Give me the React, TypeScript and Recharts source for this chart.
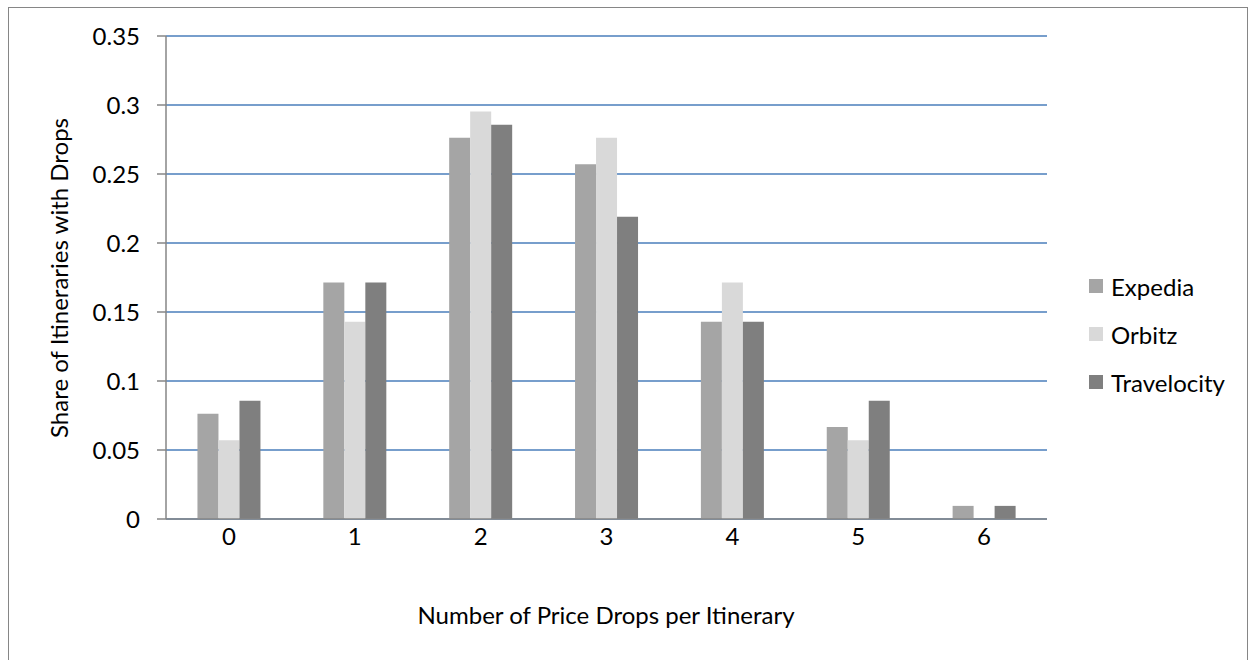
import { BarChart, Bar, XAxis, YAxis, CartesianGrid } from 'recharts'

const drops = ['0', '1', '2', '3', '4', '5', '6']
const expedia = [0.0762, 0.1714, 0.2762, 0.2571, 0.1429, 0.0667, 0.0095]
const orbitz = [0.0571, 0.1429, 0.2952, 0.2762, 0.1714, 0.0571, 0]
const travelocity = [0.0857, 0.1714, 0.2857, 0.219, 0.1429, 0.0857, 0.0095]
const yTicks = [0, 0.05, 0.1, 0.15, 0.2, 0.25, 0.3, 0.35]

const series = [
    { key: 'Expedia', values: expedia, color: '#A5A5A5' },
    { key: 'Orbitz', values: orbitz, color: '#D9D9D9' },
    { key: 'Travelocity', values: travelocity, color: '#7F7F7F' },
]

const data = drops.map((d, i) => {
    const row: Record<string, string | number> = { drops: d }
    series.forEach(s => { row[s.key] = s.values[i] })
    return row
})

const FONT = 'Lato, "Open Sans", sans-serif'
const FS = 24
const AXIS = '#868686'

const fmt = (v: number) => String(Number(v.toFixed(2)))

export default function App() {
    return (
        <div style={{ position: 'absolute', left: 8, top: 7, width: 1238, height: 700, border: `1px solid ${AXIS}`, background: '#fff' }}>
            <BarChart
                width={1238}
                height={640}
                data={data}
                margin={{ top: 28, right: 200, left: 97, bottom: 99 }}
                barCategoryGap="25%"
                barGap={0}
            >
                <CartesianGrid horizontal vertical={false} stroke="#4A7EBB" strokeWidth={1.5} />
                <XAxis
                    dataKey="drops"
                    height={30}
                    stroke={AXIS}
                    strokeWidth={1.5}
                    tickLine={false}
                    tickSize={0}
                    tickMargin={9}
                    tick={{ fill: '#000', fontSize: FS, fontFamily: FONT }}
                />
                <YAxis
                    width={60}
                    domain={[0, 0.35]}
                    ticks={yTicks}
                    tickFormatter={fmt}
                    interval={0}
                    stroke={AXIS}
                    strokeWidth={1.5}
                    tickSize={9}
                    tickMargin={17}
                    tick={{ fill: '#000', fontSize: FS, fontFamily: FONT }}
                />
                {series.map(s => (
                    <Bar key={s.key} dataKey={s.key} fill={s.color} isAnimationActive={false} />
                ))}
                <text x={49} y={270} transform="rotate(-90 49 270)" textAnchor="middle" dominantBaseline="central"
                    fontFamily={FONT} fontSize={FS} fill="#000">
                    Share of Itineraries with Drops
                </text>
                <text x={597} y={606} textAnchor="middle" dominantBaseline="central"
                    fontFamily={FONT} fontSize={FS} fill="#000">
                    Number of Price Drops per Itinerary
                </text>
            </BarChart>
            {/* series key, right of the plot */}
            <div style={{ position: 'absolute', left: 1080, top: 254, fontFamily: FONT, fontSize: FS, color: '#000' }}>
                {series.map(s => (
                    <div key={s.key} style={{ display: 'flex', alignItems: 'center', height: 48 }}>
                        <span style={{ width: 14, height: 14, background: s.color, marginRight: 8, display: 'inline-block' }} />
                        <span>{s.key}</span>
                    </div>
                ))}
            </div>
        </div>
    )
}
